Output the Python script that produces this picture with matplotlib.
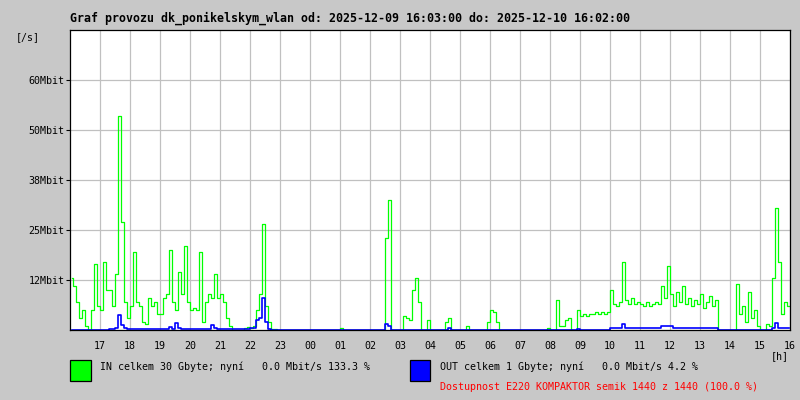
import numpy as np
import matplotlib
matplotlib.use("Agg")
import matplotlib.pyplot as plt
from matplotlib.patches import Rectangle

# traffic samples, one every 6 minutes starting 16:03 (Mbit/s)
traffic_in = [
    13, 11, 7, 3, 5, 1, 0, 5, 16.5, 6,
    5, 17, 10, 10, 6, 14, 53.5, 27, 7, 3,
    6, 19.5, 7, 6, 2, 1.5, 8, 6, 7, 4,
    4, 8, 9, 20, 7, 5, 14.5, 9, 21, 7,
    5, 5.5, 5, 19.5, 2, 7, 9, 8, 14, 8,
    9, 7, 3, 1, 0, 0, 0, 0, 0.5, 0.8,
    0.5, 1, 5, 9, 26.5, 6, 2, 0.3, 0.3, 0,
    0, 0, 0, 0, 0, 0, 0, 0, 0, 0,
    0, 0, 0, 0, 0, 0, 0, 0, 0, 0,
    0.5, 0, 0, 0, 0, 0, 0, 0, 0, 0,
    0, 0, 0, 0, 0, 23, 32.5, 0, 0, 0,
    0, 3.5, 3, 2.5, 10, 13, 7, 0, 0, 2.5,
    0, 0, 0, 0, 0, 2, 3, 0, 0, 0,
    0, 0, 1, 0, 0, 0, 0, 0, 0, 2,
    5, 4.5, 2, 0, 0, 0, 0, 0, 0, 0,
    0, 0, 0, 0, 0, 0, 0, 0, 0, 0.5,
    0, 0, 7.5, 1, 1, 2.5, 3, 0, 0, 5,
    3.5, 4, 3.5, 4, 4, 4.5, 4, 4.5, 4, 4.5,
    10, 6.5, 6, 7, 17, 7.5, 6.5, 8, 6.5, 7,
    6.5, 6, 7, 6, 6.5, 7, 6.5, 11, 8, 16,
    9, 6, 9.5, 7, 11, 6.5, 8, 6, 7.5, 6.5,
    9, 5.5, 7, 8.5, 6, 7.5, 0, 0, 0, 0,
    0, 0, 11.5, 4, 6, 2, 9.5, 3, 5, 1,
    0, 0, 1.5, 1, 13, 30.5, 17, 4, 7, 6,
]
traffic_out = [
    0, 0, 0, 0, 0, 0, 0, 0, 0, 0,
    0, 0, 0, 0.3, 0.3, 0.5, 3.7, 1.2, 0.5, 0.3,
    0.3, 0.3, 0.3, 0.3, 0.3, 0.3, 0.3, 0.3, 0.3, 0.3,
    0.3, 0.3, 0.3, 0.7, 0.3, 1.7, 0.6, 0.3, 0.3, 0.3,
    0.3, 0.3, 0.3, 0.3, 0.3, 0.3, 0.3, 1.2, 0.5, 0.3,
    0.3, 0.2, 0.2, 0.2, 0.2, 0.2, 0.2, 0.2, 0.2, 0.2,
    0.4, 0.5, 2.5, 3, 8, 2, 0.3, 0, 0, 0,
    0, 0, 0, 0, 0, 0, 0, 0, 0, 0,
    0, 0, 0, 0, 0, 0, 0, 0, 0, 0,
    0, 0, 0, 0, 0, 0, 0, 0, 0, 0,
    0, 0, 0, 0, 0, 1.5, 1, 0, 0, 0,
    0, 0, 0, 0, 0, 0, 0, 0, 0, 0,
    0, 0, 0, 0, 0, 0, 0.5, 0, 0, 0,
    0, 0, 0, 0, 0, 0, 0, 0, 0, 0,
    0, 0, 0, 0, 0, 0, 0, 0, 0, 0,
    0, 0, 0, 0, 0, 0, 0, 0, 0, 0,
    0, 0, 0, 0, 0, 0, 0, 0, 0, 0.3,
    0, 0, 0, 0, 0, 0, 0, 0, 0, 0,
    0.45, 0.45, 0.45, 0.45, 1.5, 0.45, 0.45, 0.45, 0.45, 0.45,
    0.45, 0.45, 0.45, 0.45, 0.45, 0.45, 0.45, 0.9, 0.9, 0.9,
    0.9, 0.45, 0.45, 0.45, 0.45, 0.45, 0.45, 0.45, 0.45, 0.45,
    0.45, 0.45, 0.45, 0.45, 0.45, 0.45, 0, 0, 0, 0,
    0, 0, 0, 0, 0, 0, 0, 0, 0, 0,
    0, 0, 0, 0, 0.5, 1.7, 0.5, 0.4, 0.4, 0.4,
]
hour_labels = ['17', '18', '19', '20', '21', '22', '23', '00', '01', '02', '03', '04',
               '05', '06', '07', '08', '09', '10', '11', '12', '13', '14', '15', '16']
y_ticks = [12.5, 25, 37.5, 50, 62.5]
y_labels = ['12Mbit', '25Mbit', '38Mbit', '50Mbit', '60Mbit']

title = "Graf provozu dk_ponikelskym_wlan od: 2025-12-09 16:03:00 do: 2025-12-10 16:02:00"
in_text = "IN celkem 30 Gbyte; nyní   0.0 Mbit/s 133.3 %"
out_text = "OUT celkem 1 Gbyte; nyní   0.0 Mbit/s 4.2 %"
avail_text = "Dostupnost E220 KOMPAKTOR semik 1440 z 1440 (100.0 %)"

W, H = 800, 400
mono = 'DejaVu Sans Mono'
bg = '#c8c8c8'

fig = plt.figure(figsize=(8, 4), dpi=100, facecolor=bg)

def px(x, y):
    # pixel position (top-left origin) -> figure fraction
    return x / W, 1 - y / H

ax = fig.add_axes([70 / W, 70 / H, 720 / W, 300 / H])
ax.set_facecolor('white')

t = (np.arange(len(traffic_in)) + 0.5) * 0.1
ax.plot(t, traffic_in, color='#00ff00', lw=0.9, drawstyle='steps-mid')
ax.plot(t, traffic_out, color='#0000ff', lw=1.2, drawstyle='steps-mid')

ax.set_xlim(0, 24)
ax.set_ylim(0, 75)
ax.set_xticks(np.arange(1, 25))
ax.set_xticklabels(hour_labels, fontfamily=mono, fontsize=7.2)
ax.set_yticks(y_ticks)
ax.set_yticklabels(y_labels, fontfamily=mono, fontsize=7.2)
ax.tick_params(axis='x', length=0, pad=8)
ax.tick_params(axis='y', length=3, width=0.8, pad=1, color='black')
ax.grid(True, color='#c0c0c0', lw=0.9)
ax.set_axisbelow(True)
for s in ax.spines.values():
    s.set_color('black')
    s.set_linewidth(0.9)

fig.text(*px(70, 18), title, fontfamily=mono, fontweight='bold', fontsize=8.4, va='center', ha='left')
fig.text(*px(28, 37), "[/s]", fontfamily=mono, fontsize=7.2, va='center', ha='center')
fig.text(*px(780, 356), "[h]", fontfamily=mono, fontsize=7.2, va='center', ha='center')

for x0, col in [(70, '#00ff00'), (410, '#0000ff')]:
    fx, fy = px(x0, 380.5)
    fig.patches.append(Rectangle((fx, fy), 20.5 / W, 20.5 / H, transform=fig.transFigure,
                                 facecolor=col, edgecolor='black', lw=0.9))

fig.text(*px(100, 367), in_text, fontfamily=mono, fontsize=7.2, va='center', ha='left')
fig.text(*px(440, 367), out_text, fontfamily=mono, fontsize=7.2, va='center', ha='left')
fig.text(*px(440, 387), avail_text, fontfamily=mono, fontsize=7.2, va='center', ha='left', color='#ff0000')

fig.savefig('out.png', dpi=100, facecolor=bg)
